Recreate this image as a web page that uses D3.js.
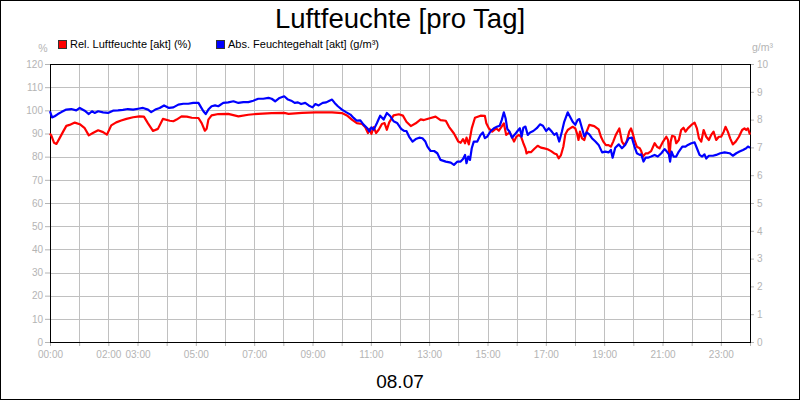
<!DOCTYPE html>
<html>
<head>
<meta charset="utf-8">
<script src="https://cdn.jsdelivr.net/npm/d3@7"></script>
<style>
  body { margin: 0; background: #fff; }
  svg { display: block; font-family: "Liberation Sans", Arial, sans-serif; }
  .tick text { fill: #b4b4b4; font-size: 10px; }
  .tick line { stroke: #b4b4b4; }
  .domain { display: none; }
</style>
</head>
<body>
<div id="chart"></div>
<script>
var svgWidth = 800;
var svgHeight = 400;

var margin = { top: 64, right: 50, bottom: 58, left: 50 };
var width = svgWidth - margin.left - margin.right;
var height = svgHeight - margin.top - margin.bottom;

// Rel. Luftfeuchte (%), left axis
var rhHours = [0.00, 0.05, 0.14, 0.22, 0.33, 0.45, 0.56, 0.67, 0.85, 1.02, 1.19, 1.33, 1.47, 1.65, 1.82, 1.95,
  2.10, 2.27, 2.44, 2.62, 2.85, 3.07, 3.22, 3.36, 3.53, 3.70, 3.87, 4.11, 4.23, 4.34, 4.51, 4.69, 4.86,
  5.09, 5.20, 5.31, 5.37, 5.43, 5.54, 5.77, 6.11, 6.46, 6.80, 7.14, 7.60, 8.03, 8.18, 8.64, 9.10, 9.67,
  10.01, 10.18, 10.35, 10.52, 10.70, 10.81, 10.90, 10.95, 11.02, 11.10, 11.18, 11.27, 11.38, 11.47, 11.55,
  11.63, 11.78, 11.96, 12.10, 12.22, 12.37, 12.54, 12.71, 12.82, 12.99, 13.22, 13.39, 13.57, 13.68, 13.85,
  14.00, 14.08, 14.16, 14.23, 14.28, 14.36, 14.46, 14.57, 14.76, 14.91, 14.96, 15.05, 15.16, 15.30, 15.39,
  15.56, 15.64, 15.76, 15.91, 15.99, 16.07, 16.15, 16.23, 16.30, 16.34, 16.41, 16.49, 16.60, 16.72, 16.83,
  16.95, 17.06, 17.18, 17.29, 17.37, 17.44, 17.52, 17.60, 17.67, 17.75, 17.83, 17.92, 18.01, 18.07, 18.12,
  18.17, 18.24, 18.32, 18.40, 18.49, 18.66, 18.81, 18.89, 18.97, 19.06, 19.15, 19.23, 19.31, 19.40, 19.52,
  19.61, 19.69, 19.77, 19.86, 19.92, 19.99, 20.04, 20.12, 20.22, 20.27, 20.33, 20.42, 20.50, 20.61, 20.73,
  20.81, 20.90, 21.02, 21.13, 21.19, 21.24, 21.28, 21.33, 21.42, 21.47, 21.56, 21.64, 21.72, 21.79, 21.87,
  21.99, 22.10, 22.18, 22.25, 22.33, 22.41, 22.50, 22.59, 22.67, 22.75, 22.84, 22.93, 23.01, 23.10, 23.16,
  23.24, 23.32, 23.41, 23.51, 23.62, 23.73, 23.81, 23.87, 23.93, 24.00];
var rhValues = [90, 89, 86, 85.5, 88, 90.8, 93.3, 93.7, 94.7, 94, 92.3, 89.2, 90.2, 91.4, 90.6, 89.5,
  93.5, 94.8, 95.6, 96.3, 97, 97.4, 97.3, 94.4, 91.1, 92, 96.3, 95.5, 95.3, 96, 97.4, 97.3, 96.8,
  96.7, 94.5, 91.2, 92, 96, 97.8, 98.4, 98.5, 97.4, 98.1, 98.5, 98.8, 98.9, 98.5, 98.9, 99.1, 99.1,
  98.8, 97.8, 96, 94.5, 94.1, 92.7, 90.2, 92, 89.8, 92.7, 90.2, 91.6, 94.1, 94.5, 91.6,
  94.8, 97.8, 98.3, 97.7, 95.1, 93.2, 94.4, 96.1, 95.8, 96.5, 97.3, 95.8, 95.5, 92.9, 90,
  86.5, 86, 87.6, 85.8, 88.2, 85.3, 92.2, 96.8, 97.7, 97.6, 94.4, 92.2, 90.8, 92.2, 91.2,
  94.4, 89.4, 90.5, 86.5, 88.6, 89.4, 88.6, 85.8, 83.6, 81.4, 82.1, 81.9, 83.3, 84.7, 83.9,
  83.6, 83.2, 82.4, 81.4, 81, 79.3, 80.7, 84.3, 89.7, 91.5, 92.2, 92.9, 92.2, 90, 87.2,
  90.8, 87.9, 87.2, 90.8, 93.7, 93.2, 91.8, 88.6, 86.5, 85, 85, 84.3, 86.5, 89.4, 92.2,
  86.5, 85, 86.5, 90.8, 92.2, 89.6, 87.2, 84.3, 83.6, 82.4, 80, 81.4, 81.4, 82.4, 85.8,
  84.3, 83.6, 86.5, 88.6, 87.2, 80, 86.5, 89, 88.6, 85.8, 87.2, 91.5, 92.5, 90.8, 92.2,
  93.7, 94.7, 92.2, 87.9, 86.5, 91.5, 88.6, 87.2, 89.4, 90.8, 87.2, 88.6, 88.6, 90.8, 92.9,
  90.8, 87.9, 85.3, 86.5, 88.6, 91.5, 92.2, 91.5, 92.2, 89.5];

// Abs. Feuchtegehalt (g/m³), right axis
var ahHours = [0.00, 0.07, 0.16, 0.27, 0.39, 0.56, 0.73, 0.90, 1.02, 1.19, 1.33, 1.44, 1.53, 1.65, 1.82, 1.99,
  2.16, 2.33, 2.50, 2.67, 2.85, 3.02, 3.19, 3.36, 3.47, 3.61, 3.76, 3.91, 4.08, 4.23, 4.40, 4.57, 4.74,
  4.91, 5.09, 5.18, 5.26, 5.34, 5.43, 5.54, 5.66, 5.77, 5.94, 6.11, 6.29, 6.46, 6.63, 6.80, 6.97, 7.14,
  7.31, 7.49, 7.60, 7.72, 7.87, 8.03, 8.16, 8.27, 8.39, 8.50, 8.61, 8.75, 8.87, 9.00, 9.10, 9.21, 9.35,
  9.47, 9.58, 9.67, 9.76, 9.87, 10.01, 10.15, 10.30, 10.41, 10.52, 10.64, 10.75, 10.87, 10.95, 11.02,
  11.10, 11.21, 11.32, 11.44, 11.55, 11.67, 11.78, 11.90, 12.04, 12.14, 12.22, 12.31, 12.43, 12.54, 12.66,
  12.77, 12.87, 12.94, 13.05, 13.17, 13.28, 13.39, 13.57, 13.74, 13.85, 13.97, 14.08, 14.16, 14.23, 14.28,
  14.34, 14.40, 14.46, 14.53, 14.65, 14.76, 14.84, 14.91, 14.99, 15.11, 15.22, 15.34, 15.42, 15.49, 15.56,
  15.62, 15.68, 15.76, 15.84, 15.94, 16.03, 16.11, 16.17, 16.23, 16.30, 16.38, 16.46, 16.57, 16.69, 16.80,
  16.90, 17.01, 17.10, 17.21, 17.29, 17.37, 17.46, 17.55, 17.63, 17.75, 17.83, 17.92, 18.01, 18.09, 18.15,
  18.24, 18.32, 18.40, 18.49, 18.58, 18.70, 18.81, 18.93, 19.04, 19.15, 19.23, 19.29, 19.38, 19.50, 19.61,
  19.72, 19.84, 19.95, 20.04, 20.12, 20.22, 20.27, 20.35, 20.42, 20.50, 20.61, 20.73, 20.84, 20.96, 21.07,
  21.15, 21.22, 21.26, 21.31, 21.38, 21.47, 21.56, 21.68, 21.79, 21.87, 21.99, 22.10, 22.18, 22.27, 22.36,
  22.44, 22.50, 22.59, 22.73, 22.84, 22.98, 23.13, 23.30, 23.41, 23.53, 23.64, 23.76, 23.87, 23.93, 24.00];
var ahValues = [8.30, 8.08, 8.12, 8.2, 8.27, 8.36, 8.38, 8.33, 8.42, 8.32, 8.2, 8.30, 8.24, 8.30, 8.26, 8.24,
  8.32, 8.33, 8.35, 8.38, 8.36, 8.39, 8.42, 8.36, 8.27, 8.36, 8.42, 8.51, 8.42, 8.44, 8.54, 8.57, 8.57,
  8.6, 8.6, 8.44, 8.30, 8.2, 8.36, 8.48, 8.51, 8.48, 8.6, 8.62, 8.66, 8.6, 8.63, 8.63, 8.68, 8.75,
  8.75, 8.78, 8.75, 8.66, 8.78, 8.84, 8.72, 8.68, 8.6, 8.62, 8.56, 8.6, 8.51, 8.44, 8.56, 8.51, 8.6,
  8.62, 8.68, 8.72, 8.6, 8.48, 8.36, 8.27, 8.18, 8.06, 7.96, 7.97, 7.82, 7.7, 7.58, 7.72,
  7.64, 7.88, 8.14, 8.0, 8.24, 8.12, 7.94, 7.88, 7.67, 7.59, 7.59, 7.39, 7.21, 7.3, 7.35,
  7.33, 7.21, 7.03, 6.87, 6.87, 6.79, 6.55, 6.49, 6.45, 6.37, 6.49, 6.49, 6.58, 6.73, 6.43,
  6.67, 6.55, 6.97, 7.21, 7.21, 7.45, 7.54, 7.33, 7.39, 7.59, 7.69, 7.75, 7.78, 7.99, 8.26,
  8.05, 7.66, 7.56, 7.35, 7.47, 7.59, 7.69, 7.39, 7.71, 7.75, 7.45, 7.54, 7.59, 7.69, 7.83,
  7.78, 7.59, 7.69, 7.56, 7.45, 7.51, 7.21, 7.56, 7.92, 8.26, 8.1, 7.92, 7.81, 7.99, 8.02,
  7.69, 7.39, 7.54, 7.47, 7.33, 7.21, 7.09, 6.82, 6.85, 6.82, 6.91, 6.63, 6.99, 7.11, 6.97,
  7.09, 7.33, 7.35, 7.03, 6.79, 6.73, 6.75, 6.49, 6.63, 6.63, 6.67, 6.73, 6.67, 6.79, 6.94,
  6.85, 6.75, 6.49, 6.85, 6.67, 6.67, 6.85, 7.03, 7.03, 7.09, 7.15, 7.18, 6.97, 6.73, 6.67,
  6.75, 6.6, 6.7, 6.7, 6.73, 6.79, 6.82, 6.79, 6.7, 6.79, 6.85, 6.91, 6.97, 7.03, 6.99];

var xLabelHours = [0, 2, 3, 5, 7, 9, 11, 13, 15, 17, 19, 21, 23];
var leftTicks = [0, 10, 20, 30, 40, 50, 60, 70, 80, 90, 100, 110, 120];
var rightTicks = [0, 1, 2, 3, 4, 5, 6, 7, 8, 9, 10];

var rhData = rhHours.map((h, i) => ({ h: h, v: rhValues[i] }));
var ahData = ahHours.map((h, i) => ({ h: h, v: ahValues[i] }));

var svg = d3.select("#chart")
  .append("svg")
  .attr("width", svgWidth)
  .attr("height", svgHeight);

svg.append("rect")
  .attr("x", 0.5).attr("y", 0.5)
  .attr("width", svgWidth - 1).attr("height", svgHeight - 1)
  .attr("fill", "#fff").attr("stroke", "#000");

var chartGroup = svg.append("g")
  .attr("transform", `translate(${margin.left}, ${margin.top})`);

var xScale = d3.scaleLinear().domain([0, 24]).range([0, width]);
var yLeft = d3.scaleLinear().domain([0, 120]).range([height, 0]);
var yRight = d3.scaleLinear().domain([0, 10]).range([height, 0]);

// grid
chartGroup.append("g")
  .selectAll("line")
  .data(d3.range(1, 24))
  .enter()
  .append("line")
  .attr("x1", d => Math.round(xScale(d)) + 0.5)
  .attr("x2", d => Math.round(xScale(d)) + 0.5)
  .attr("y1", 0)
  .attr("y2", height)
  .attr("stroke", "#c0c0c0");

chartGroup.append("g")
  .selectAll("line")
  .data(leftTicks.slice(1, -1))
  .enter()
  .append("line")
  .attr("x1", 0)
  .attr("x2", width)
  .attr("y1", d => Math.round(yLeft(d)) + 0.5)
  .attr("y2", d => Math.round(yLeft(d)) + 0.5)
  .attr("stroke", "#c0c0c0");

// axes
var bottomAxis = d3.axisBottom(xScale)
  .tickValues(d3.range(0, 25))
  .tickSize(4)
  .tickPadding(5)
  .tickFormat(d => xLabelHours.includes(d) ? (d < 10 ? "0" + d : d) + ":00" : "");

chartGroup.append("g")
  .attr("transform", `translate(0, ${height})`)
  .call(bottomAxis);

chartGroup.append("g")
  .call(d3.axisLeft(yLeft).tickValues(leftTicks).tickSize(5).tickPadding(2));

chartGroup.append("g")
  .attr("transform", `translate(${width}, 0)`)
  .call(d3.axisRight(yRight).tickValues(rightTicks).tickSize(4).tickPadding(3));

// plot frame
chartGroup.append("rect")
  .attr("x", 0.5).attr("y", 0.5)
  .attr("width", width).attr("height", height)
  .attr("fill", "none")
  .attr("stroke", "#000");

// lines
var rhLine = d3.line().x(d => xScale(d.h)).y(d => yLeft(d.v));
var ahLine = d3.line().x(d => xScale(d.h)).y(d => yRight(d.v));

chartGroup.append("path")
  .datum(rhData)
  .attr("d", rhLine)
  .attr("fill", "none")
  .attr("stroke", "#ff0000")
  .attr("stroke-width", 2.2)
  .attr("stroke-linejoin", "round");

chartGroup.append("path")
  .datum(ahData)
  .attr("d", ahLine)
  .attr("fill", "none")
  .attr("stroke", "#0000ff")
  .attr("stroke-width", 2.2)
  .attr("stroke-linejoin", "round");

// texts
svg.append("text")
  .attr("x", 400).attr("y", 28)
  .attr("text-anchor", "middle")
  .attr("font-size", 27.5)
  .text("Luftfeuchte [pro Tag]");

svg.append("text")
  .attr("x", 400).attr("y", 388)
  .attr("text-anchor", "middle")
  .attr("font-size", 19)
  .text("08.07");

svg.append("text")
  .attr("x", 43).attr("y", 52)
  .attr("text-anchor", "middle")
  .attr("font-size", 10.5)
  .attr("fill", "#b4b4b4")
  .text("%");

svg.append("text")
  .attr("x", 773).attr("y", 51)
  .attr("text-anchor", "end")
  .attr("font-size", 10.5)
  .attr("fill", "#b4b4b4")
  .text("g/m³");

// legend
var legendItems = [
  { label: "Rel. Luftfeuchte [akt] (%)", color: "#ff0000", x: 58 },
  { label: "Abs. Feuchtegehalt [akt] (g/m³)", color: "#0000ff", x: 216 }
];

var legend = svg.selectAll(".legend")
  .data(legendItems)
  .enter()
  .append("g")
  .attr("class", "legend");

legend.append("rect")
  .attr("x", d => d.x + 0.5).attr("y", 40.5)
  .attr("width", 8).attr("height", 8)
  .attr("fill", d => d.color)
  .attr("stroke", "#333");

legend.append("text")
  .attr("x", d => d.x + 12).attr("y", 48)
  .attr("font-size", 11)
  .text(d => d.label);
</script>
</body>
</html>
